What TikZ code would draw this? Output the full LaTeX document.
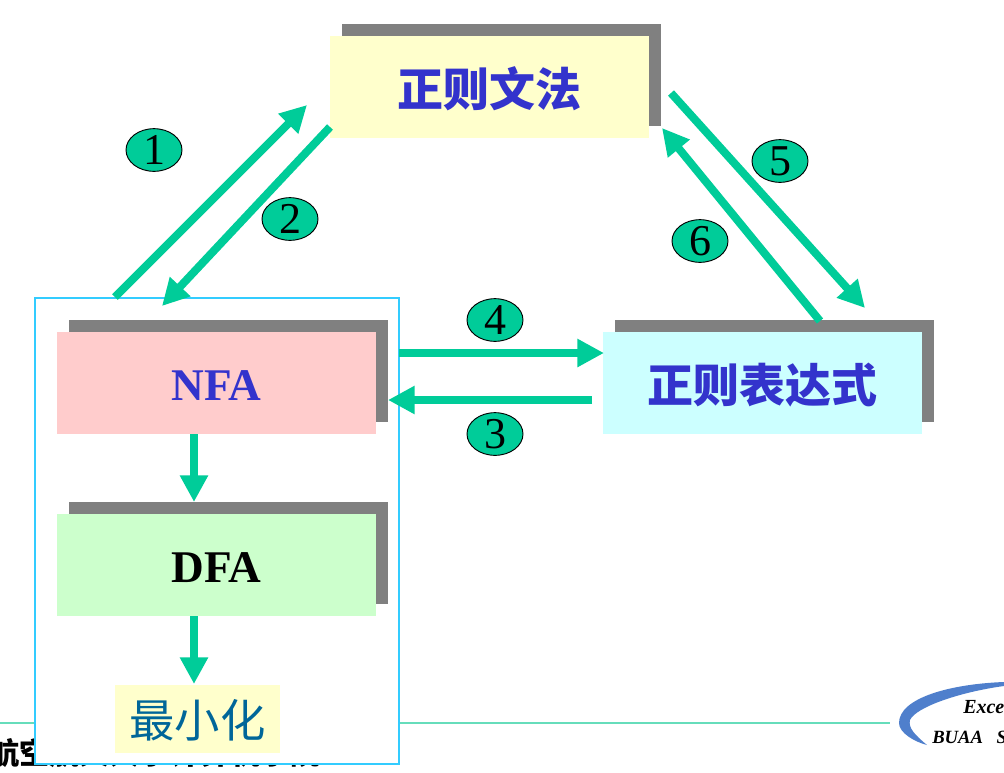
\documentclass[tikz,border=0pt]{standalone}
\usepackage{fontspec}
\setmainfont{Liberation Serif}
\newfontfamily\cjk{Noto Sans CJK SC}
\usetikzlibrary{arrows.meta,shapes.geometric,shadows}
\definecolor{flow}{HTML}{00CC99}
\definecolor{shade}{HTML}{808080}
\definecolor{ylw}{HTML}{FFFFCC}
\definecolor{pnk}{HTML}{FFCCCC}
\definecolor{grn}{HTML}{CCFFCC}
\definecolor{cyn}{HTML}{CCFFFF}
\definecolor{frame}{HTML}{33CCFF}
\definecolor{title}{HTML}{3333CC}
\definecolor{teal2}{HTML}{006699}
\definecolor{rule2}{HTML}{66DDBB}
\definecolor{logo}{HTML}{4F7FCC}
\tikzset{
  panel/.style={rectangle,inner sep=0pt,minimum width=239.25pt,minimum height=76.5pt,
    general shadow={fill=shade,shadow xshift=9pt,shadow yshift=9pt}},
  flowarrow/.style={draw=flow,line width=6pt,
    -{Triangle[length=20pt,width=20pt,fill=flow]}},
  badge/.style={ellipse,draw=black,line width=0.7pt,fill=flow,inner sep=0pt,
    minimum width=42pt,minimum height=32pt,font=\fontsize{33}{33}\selectfont},
  cjktitle/.style={font=\cjk\bfseries\fontsize{34.5}{36}\selectfont,text=title,text depth=1.5pt,text height=30pt},
  latintitle/.style={font=\bfseries\fontsize{34}{36}\selectfont,text depth=-1pt,text height=25.5pt},
  logotext/.style={font=\bfseries\itshape\fontsize{14}{16}\selectfont,inner sep=0pt,anchor=base west}
}
\begin{document}
\begin{tikzpicture}[x=0.75pt,y=-0.75pt]
\useasboundingbox (0,0) rectangle (1004,772);
% footer
\coordinate (ruleL) at (0,723);
\coordinate (ruleR) at (890,723);
\draw[rule2,line width=0.8pt] (ruleL) -- (ruleR);
\node[anchor=base west,inner sep=0pt,font=\cjk\bfseries\fontsize{22.6}{24}\selectfont] (footer) at (-11,764) {航空航天大学计算机学院};
\fill[logo] (1004,682) .. controls (950,684) and (899,698) .. (899,723)
  .. controls (899,733) and (915,742) .. (927,745)
  .. controls (915,735) and (908,728) .. (910,720)
  .. controls (916,707) and (960,692) .. (1004,686) -- cycle;
\node[logotext,font=\bfseries\itshape\fontsize{15}{16}\selectfont] (logoA) at (963,713) {Exce};
\node[logotext] (logoB) at (932,743) {BUAA\hspace{0.72em}S};
% frame
\node[draw=frame,fill=white,line width=1.2pt,rectangle,inner sep=0pt,minimum width=273pt,minimum height=349.5pt] (frame) at (217,531) {};
% panels
\node[panel,fill=ylw,cjktitle] (grammar) at (489.5,87) {正则文法};
\node[panel,fill=pnk,latintitle,text=title] (nfa) at (216.5,383) {NFA};
\node[panel,fill=grn,latintitle,text=black] (dfa) at (216.5,565) {DFA};
\node[panel,fill=cyn,cjktitle] (regex) at (762.5,383) {正则表达式};
\node[rectangle,fill=ylw,inner sep=0pt,minimum width=124pt,minimum height=51pt,text=teal2,font=\cjk\fontsize{34}{36}\selectfont,text depth=1pt,text height=29pt] (mini) at (197.5,719) {最小化};
% connector ends
\coordinate (a1s) at (115,297); \coordinate (a1e) at (307,105);
\coordinate (a2s) at (330,127); \coordinate (a2e) at (162,306);
\coordinate (a3s) at (592,400); \coordinate (a3e) at (388,400);
\coordinate (a4s) at (399,353); \coordinate (a4e) at (604,353);
\coordinate (a5s) at (671,93);  \coordinate (a5e) at (865,308);
\coordinate (a6s) at (820,321); \coordinate (a6e) at (662,128);
\draw[flowarrow] (a1s) -- (a1e);
\draw[flowarrow] (a2s) -- (a2e);
\draw[flowarrow] (a3s) -- (a3e);
\draw[flowarrow] (a4s) -- (a4e);
\draw[flowarrow] (a5s) -- (a5e);
\draw[flowarrow] (a6s) -- (a6e);
\draw[flowarrow] (nfa.south -| 194,434) -- (194,502);
\draw[flowarrow] (dfa.south -| 194,616) -- (194,684);
% badges
\node[badge] (b1) at (154,150) {1};
\node[badge] (b2) at (290,219) {2};
\node[badge] (b3) at (495,434) {3};
\node[badge] (b4) at (495,320) {4};
\node[badge] (b5) at (780,161) {5};
\node[badge] (b6) at (700,241) {6};
\end{tikzpicture}
\end{document}
